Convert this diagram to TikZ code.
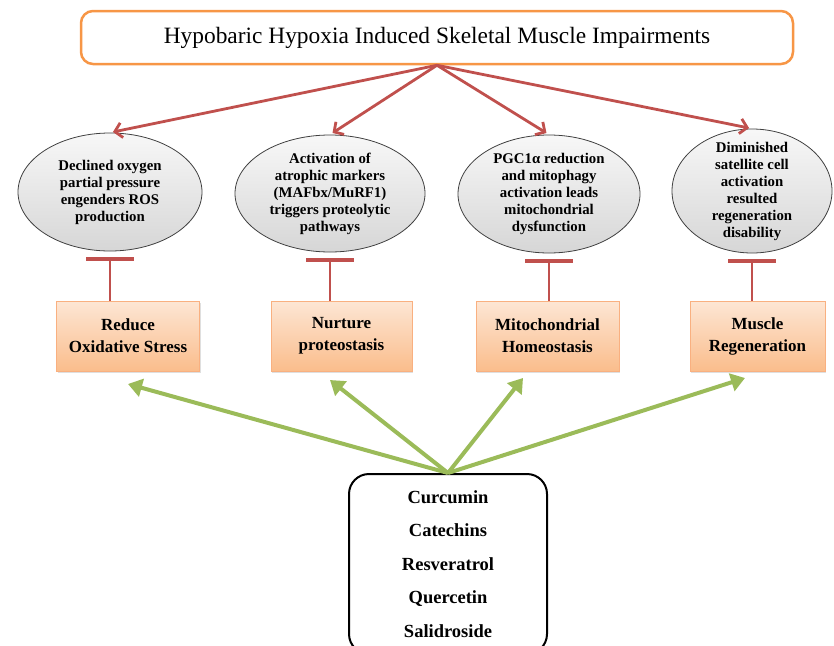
\documentclass[tikz,border=0pt]{standalone}
\usepackage{fontspec}
\setmainfont{Liberation Serif}
\usepackage{tikz}
\usetikzlibrary{arrows.meta, shapes.geometric, shadows}

\definecolor{hhorange}{HTML}{F79646}
\definecolor{hhred}{HTML}{C0504D}
\definecolor{hhgreen}{HTML}{9BBB59}
\definecolor{boxedge}{HTML}{F9B080}
\definecolor{boxtop}{HTML}{FDE6D4}
\definecolor{boxbot}{HTML}{FABD8C}

\begin{document}
\begin{tikzpicture}[x=1pt, y=-1pt,
    titlebox/.style={draw=hhorange, line width=2.5pt, rounded corners=12pt, fill=white,
        minimum width=712pt, minimum height=53pt, font=\fontsize{23.4}{27}\selectfont},
    effect/.style={ellipse, draw=black!75, line width=0.8pt, top color=gray!6, bottom color=gray!32,
        inner sep=-20pt, align=center, font=\bfseries\fontsize{14.8}{17}\selectfont},
    target/.style={draw=boxedge, line width=1pt, top color=boxtop, bottom color=boxbot,
        minimum height=70pt, align=center, font=\bfseries\fontsize{17}{22}\selectfont,
        drop shadow={shadow xshift=1pt, shadow yshift=-2pt, opacity=0.25}},
    cause/.style={draw=hhred, line width=2.8pt, -{Straight Barb[length=7pt, width=15pt]}, shorten >=3pt},
    blocks/.style={draw=hhred, line width=2.5pt, -{Bar[width=48pt, line width=4pt]}, shorten >=6pt},
    rescue/.style={draw=hhgreen, line width=4pt, -{Triangle[length=14pt, width=18pt]}}]
    \useasboundingbox (0, 0) rectangle (834, 645);

    % draw title
    \node[titlebox] (hh) at (437, 37.5) {Hypobaric Hypoxia Induced Skeletal Muscle Impairments};

    % draw impairments
    \node[effect, minimum width=184pt, minimum height=118pt] (ros) at (110, 192)
        {Declined oxygen\\partial pressure\\engenders ROS\\production};
    \node[effect, minimum width=190pt, minimum height=117pt] (atro) at (330, 193.5)
        {Activation of\\atrophic markers\\(MAFbx/MuRF1)\\triggers proteolytic\\pathways};
    \node[effect, minimum width=182pt, minimum height=118pt] (mito) at (549, 194)
        {PGC1α reduction\\and mitophagy\\activation leads\\mitochondrial\\dysfunction};
    \node[effect, minimum width=160pt, minimum height=124pt] (sat) at (752, 191)
        {Diminished\\satellite cell\\activation\\resulted\\regeneration\\disability};

    % draw targets
    \node[target, minimum width=143pt] (ox) at (128, 336) {Reduce\\Oxidative Stress};
    \node[target, minimum width=141pt] (prot) at (341.5, 336) {Nurture\\proteostasis};
    \node[target, minimum width=143pt] (homeo) at (547.5, 336) {Mitochondrial\\Homeostasis};
    \node[target, minimum width=135pt] (regen) at (757.5, 336) {Muscle\\Regeneration};

    % draw compounds
    \node[draw, line width=2pt, rounded corners=20pt, minimum width=198pt, minimum height=180pt,
        align=center, font=\bfseries\fontsize{18.5}{33.5}\selectfont] (poly) at (448, 564)
        {Curcumin\\Catechins\\Resveratrol\\Quercetin\\Salidroside};

    % draw red arrows
    \draw[cause] (hh.south) -- (ros.north);
    \draw[cause] (hh.south) -- (atro.north);
    \draw[cause] (hh.south) -- (mito.north);
    \draw[cause] (hh.south) -- (sat.north);

    % draw inhibition bars
    \draw[blocks] (ros.south |- ox.north) -- (ros.south);
    \draw[blocks] (atro.south |- prot.north) -- (atro.south);
    \draw[blocks] (mito.south |- homeo.north) -- (mito.south);
    \draw[blocks] (sat.south |- regen.north) -- (sat.south);

    % draw green arrows
    \coordinate (ox-in) at (128, 384);
    \coordinate (prot-in) at (330, 380);
    \coordinate (homeo-in) at (523, 378);
    \coordinate (regen-in) at (745, 378);
    \draw[rescue] (poly.north) -- (ox-in);
    \draw[rescue] (poly.north) -- (prot-in);
    \draw[rescue] (poly.north) -- (homeo-in);
    \draw[rescue] (poly.north) -- (regen-in);
\end{tikzpicture}
\end{document}
